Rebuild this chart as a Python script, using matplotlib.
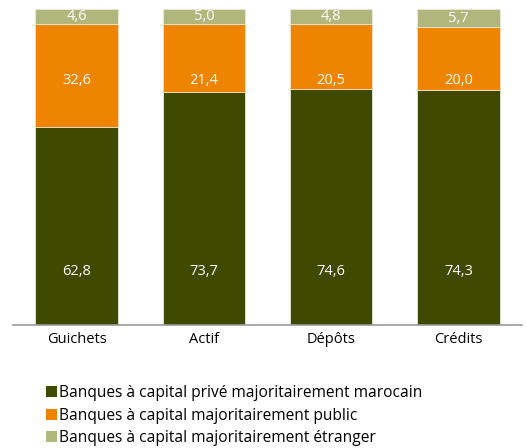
import matplotlib
matplotlib.use("Agg")
import matplotlib.pyplot as plt
from matplotlib.patches import Patch
import numpy as np

categories = ["Guichets", "Actif", "Dépôts", "Crédits"]
prive_marocain = [62.8, 73.7, 74.6, 74.3]
public = [32.6, 21.4, 20.5, 20.0]
etranger = [4.6, 5.0, 4.8, 5.7]
series_names = ["Banques à capital privé majoritairement marocain",
                "Banques à capital majoritairement public",
                "Banques à capital majoritairement étranger"]
colors = ["#3f4a00", "#ee8400", "#b1b77c"]

plt.rcParams['font.family'] = ['Open Sans', 'DejaVu Sans']

fig = plt.figure(figsize=(5.26, 4.48), dpi=100)
ax = fig.add_axes([13/526, 123/448, 509/526, 316/448])
x = np.arange(len(categories))
w = 0.65
b1 = ax.bar(x, prive_marocain, w, color=colors[0], edgecolor="#e8ead8", linewidth=0.6)
b2 = ax.bar(x, public, w, bottom=prive_marocain, color=colors[1], edgecolor="#f5e0c0", linewidth=0.6)
bottom3 = np.array(prive_marocain) + np.array(public)
b3 = ax.bar(x, etranger, w, bottom=bottom3, color=colors[2], edgecolor="#e8ead8", linewidth=0.6)

fmt = lambda v: f"{v:.1f}".replace(".", ",")
for i in range(len(categories)):
    ax.text(x[i], 17, fmt(prive_marocain[i]), color="white", ha="center", va="center", fontsize=10.5)
    ax.text(x[i], 77.5, fmt(public[i]), color="white", ha="center", va="center", fontsize=10.5)
    ax.text(x[i], bottom3[i] + etranger[i] / 2, fmt(etranger[i]), color="white", ha="center", va="center", fontsize=10.5)

ax.set_xlim(-0.5, 3.5)
ax.set_ylim(0, 100)
ax.set_xticks(x)
ax.set_xticklabels(categories, fontsize=10.5)
ax.tick_params(axis="x", length=0, pad=5)
ax.set_yticks([])
for s in ["top", "right", "left"]:
    ax.spines[s].set_visible(False)
ax.spines["bottom"].set_color("#999999")
ax.spines["bottom"].set_linewidth(1.2)

handles = [Patch(facecolor=c, edgecolor="none") for c in colors]
fig.legend(handles, series_names, loc="upper left", bbox_to_anchor=(46/526, 1 - 385/448),
           frameon=False, fontsize=11.2, handlelength=0.7, handleheight=0.7,
           handletextpad=0.15, labelspacing=0.42, borderaxespad=0, borderpad=0)

fig.savefig("out.png", dpi=100)
